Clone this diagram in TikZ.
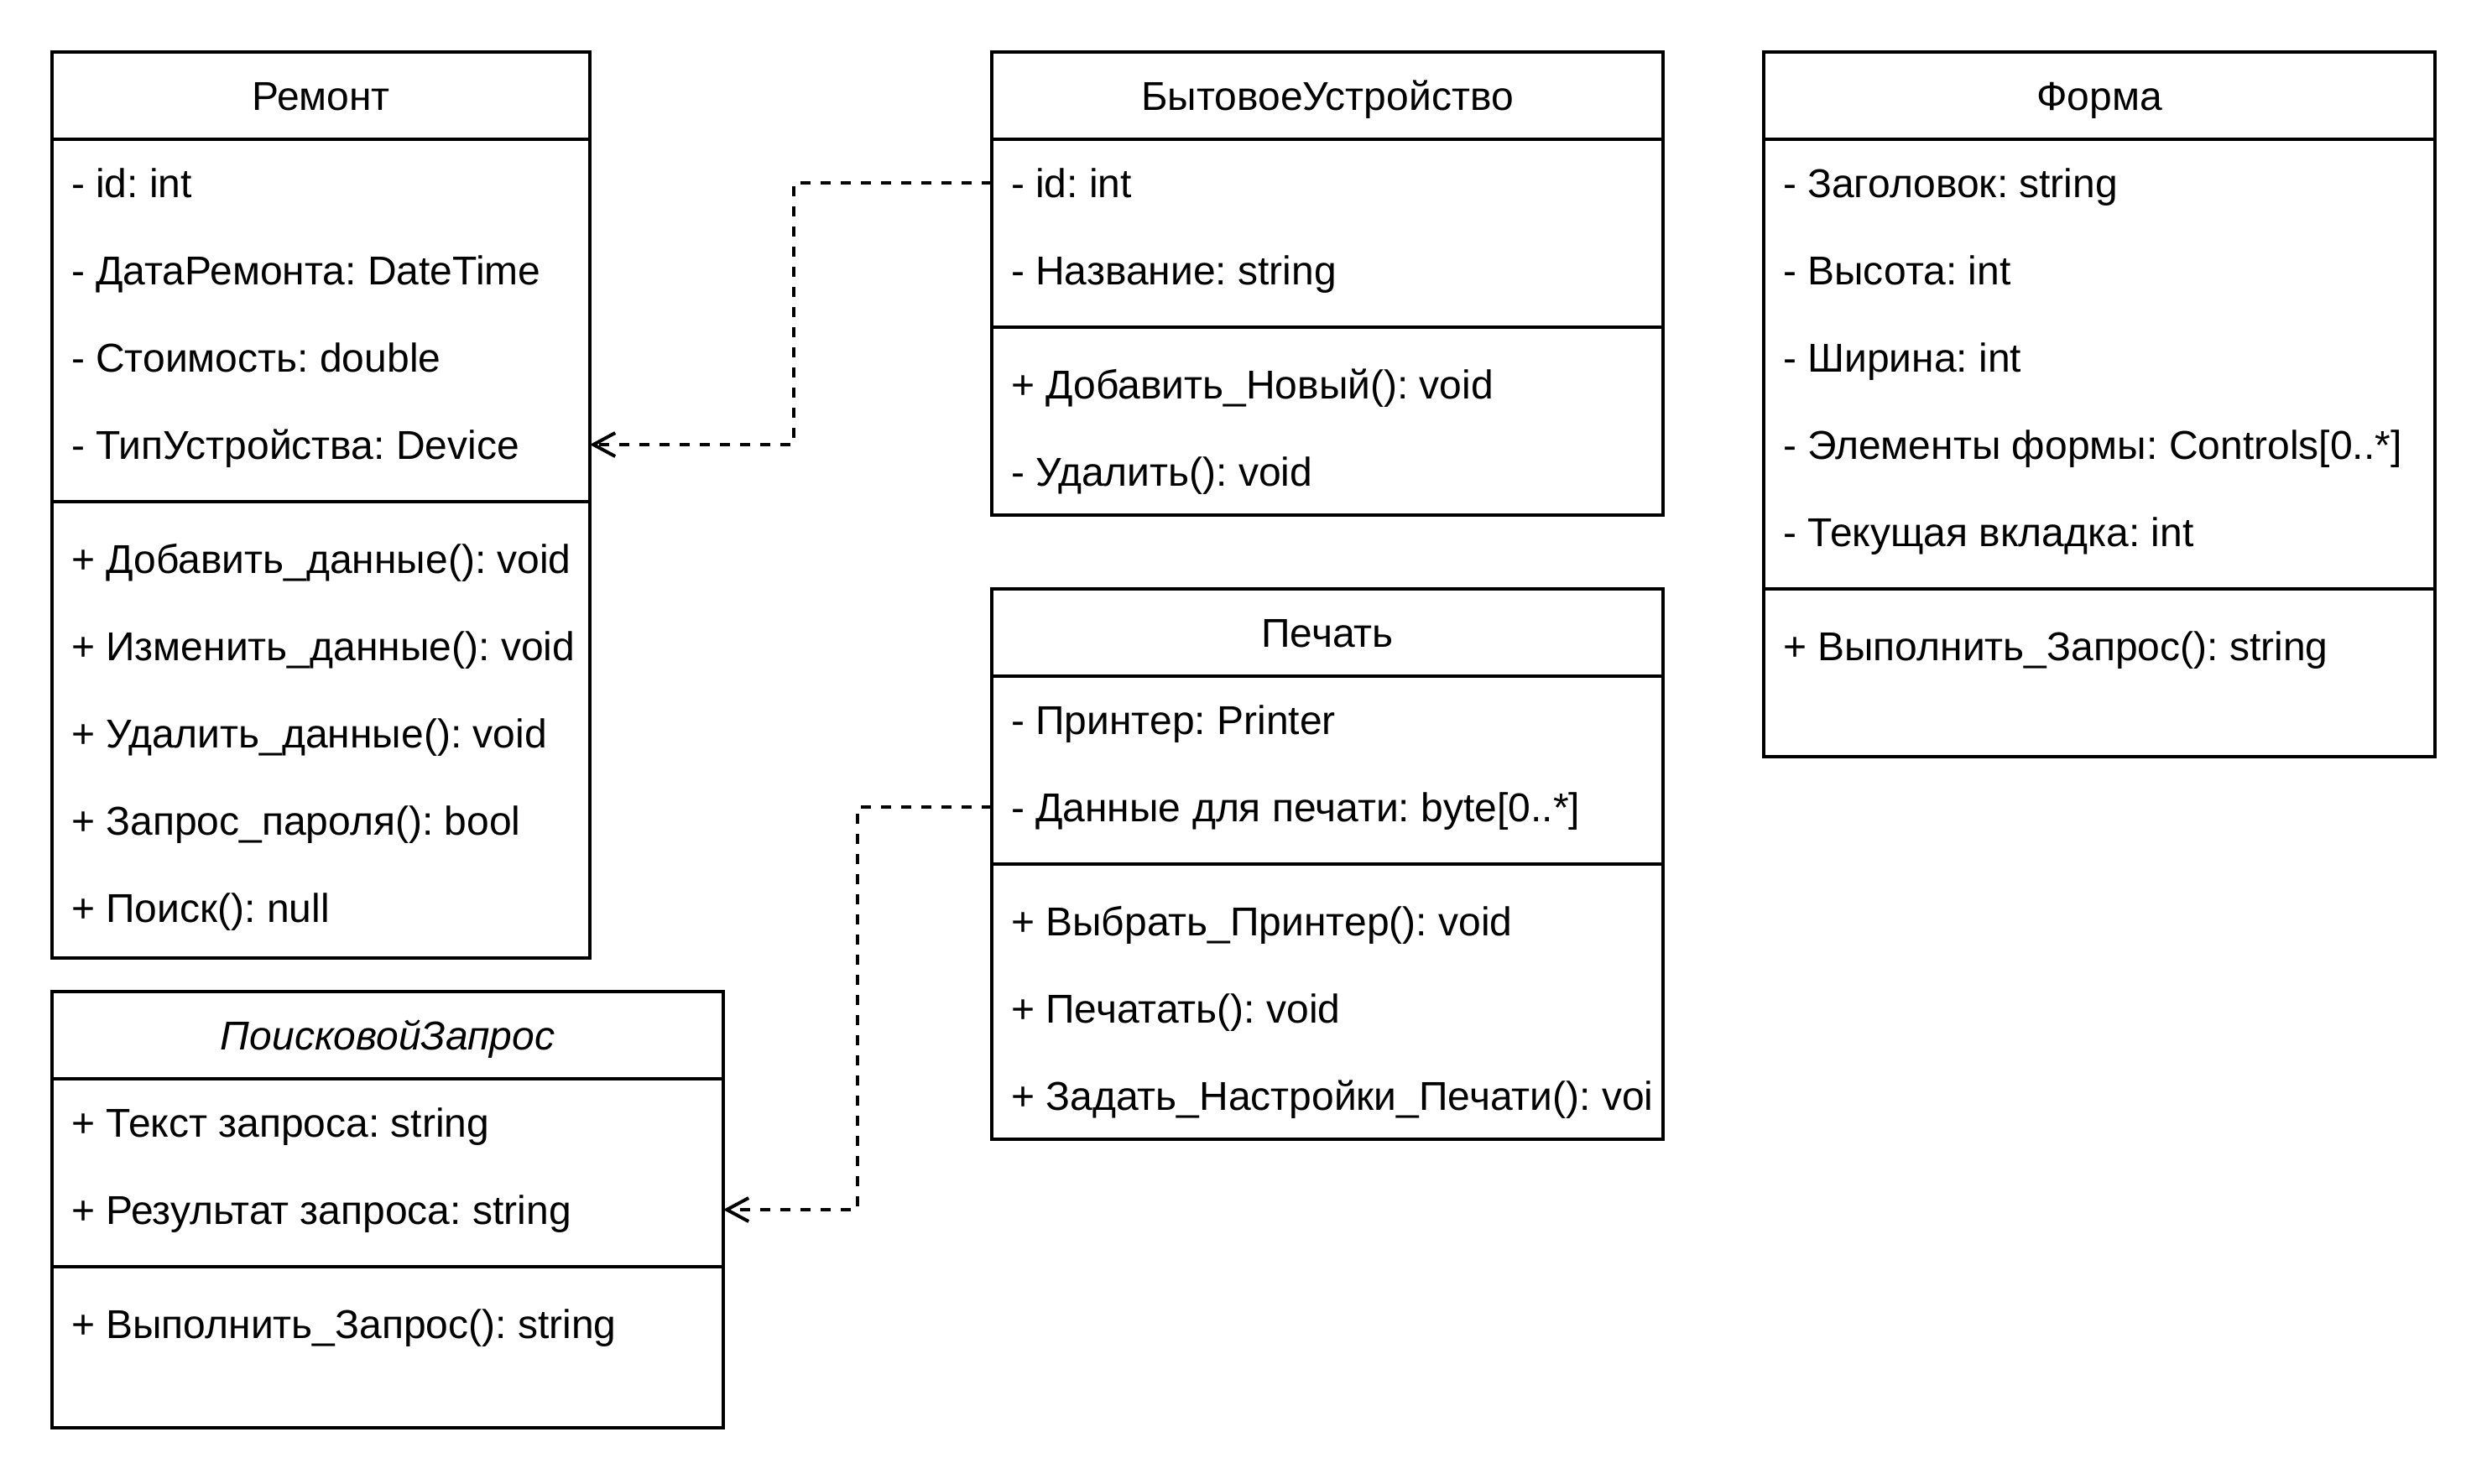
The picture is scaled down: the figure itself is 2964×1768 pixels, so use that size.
\documentclass[tikz,border=0pt]{standalone}
\usepackage{fontspec}
\setmainfont{Liberation Sans}
\usetikzlibrary{arrows.meta}
\frenchspacing
\begin{document}
\begin{tikzpicture}[x=0.25pt,y=-0.25pt,
  box/.style={draw,line width=1pt,rectangle,inner sep=0pt,outer sep=0pt,anchor=north west},
  txt/.style={inner sep=0pt,outer sep=0pt,font=\fontsize{12pt}{14pt}\selectfont\frenchspacing,text height=11pt,text depth=2.5pt},
  row/.style={txt,anchor=west,xshift=0.75pt},
  ttl/.style={txt,anchor=center},
  sepline/.style={line width=1pt},
  dep/.style={line width=1pt,dash pattern=on 3pt off 3pt,-{Straight Barb[length=6.5pt,width=7pt,line width=1pt]}}]
\useasboundingbox (0,0) rectangle (2964,1768);
% ---------- Ремонт ----------
\node[box,minimum width=160.25pt,minimum height=270pt] (rm) at (62,62) {};
\draw[sepline] (62,166) -- (703,166);
\draw[sepline] (62,598) -- (703,598);
\node[ttl] (rmt) at (382.5,114) {Ремонт};
\node[row] (rm1) at (82,218) {- id: int};
\node[row] (rm2) at (82,322) {- ДатаРемонта: DateTime};
\node[row] (rm3) at (82,426) {- Стоимость: double};
\node[row] (rm4) at (82,530) {- ТипУстройства: Device};
\node[row] (rm5) at (82,666) {+ Добавить\_данные(): void};
\node[row] (rm6) at (82,770) {+ Изменить\_данные(): void};
\node[row] (rm7) at (82,874) {+ Удалить\_данные(): void};
\node[row] (rm8) at (82,978) {+ Запрос\_пароля(): bool};
\node[row] (rm9) at (82,1082) {+ Поиск(): null};
% ---------- БытовоеУстройство ----------
\node[box,minimum width=200pt,minimum height=138pt] (bu) at (1182,62) {};
\draw[sepline] (1182,166) -- (1982,166);
\draw[sepline] (1182,390) -- (1982,390);
\node[ttl] (but) at (1582,114) {БытовоеУстройство};
\node[row] (bu1) at (1202,218) {- id: int};
\node[row] (bu2) at (1202,322) {- Название: string};
\node[row] (bu3) at (1202,458) {+ Добавить\_Новый(): void};
\node[row] (bu4) at (1202,562) {- Удалить(): void};
% ---------- Форма ----------
\node[box,minimum width=200pt,minimum height=210pt] (fm) at (2102,62) {};
\draw[sepline] (2102,166) -- (2902,166);
\draw[sepline] (2102,702) -- (2902,702);
\node[ttl] (fmt) at (2502,114) {Форма};
\node[row] (fm1) at (2122,218) {- Заголовок: string};
\node[row] (fm2) at (2122,322) {- Высота: int};
\node[row] (fm3) at (2122,426) {- Ширина: int};
\node[row] (fm4) at (2122,530) {- Элементы формы: Controls[0..*]};
\node[row] (fm5) at (2122,634) {- Текущая вкладка: int};
\node[row] (fm6) at (2122,770) {+ Выполнить\_Запрос(): string};
% ---------- Печать ----------
\node[box,minimum width=200pt,minimum height=164pt] (pr) at (1182,702) {};
\draw[sepline] (1182,806) -- (1982,806);
\draw[sepline] (1182,1030) -- (1982,1030);
\node[ttl] (prt) at (1582,754) {Печать};
\node[row] (pr1) at (1202,858) {- Принтер: Printer};
\node[row] (pr2) at (1202,962) {- Данные для печати: byte[0..*]};
\node[row] (pr3) at (1202,1098) {+ Выбрать\_Принтер(): void};
\node[row] (pr4) at (1202,1202) {+ Печатать(): void};
\node[row] (pr5) at (1202,1306) {+ Задать\_Настройки\_Печати(): voi};
% ---------- ПоисковойЗапрос ----------
\node[box,minimum width=200pt,minimum height=130pt] (sq) at (62,1182) {};
\draw[sepline] (62,1286) -- (862,1286);
\draw[sepline] (62,1510) -- (862,1510);
\node[ttl,font=\fontsize{12pt}{14pt}\selectfont\itshape] (sqt) at (462,1234) {ПоисковойЗапрос};
\node[row] (sq1) at (82,1338) {+ Текст запроса: string};
\node[row] (sq2) at (82,1442) {+ Результат запроса: string};
\node[row] (sq3) at (82,1578) {+ Выполнить\_Запрос(): string};
% ---------- connectors ----------
\coordinate (k1) at (946,0);
\coordinate (k2) at (1022,0);
\draw[dep] (bu.west |- bu1.west) -| (k1 |- rm4.west) -- (rm.east |- rm4.west);
\draw[dep] (pr.west |- pr2.west) -| (k2 |- sq2.west) -- (sq.east |- sq2.west);
\end{tikzpicture}
\end{document}
